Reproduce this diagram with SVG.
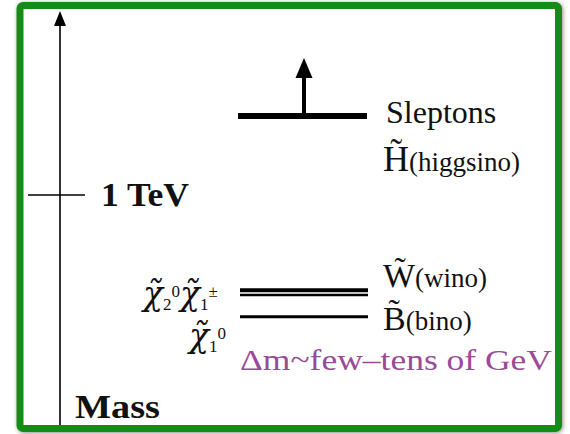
<svg xmlns="http://www.w3.org/2000/svg" width="570" height="434" viewBox="0 0 570 434">
  <defs>
    <style>
      .serif { font-family: "Liberation Serif", "Times New Roman", serif; fill: #111; }
      .big { font-size: 34px; }
      .paren { font-size: 27px; }
      .bold { font-weight: bold; font-size: 34px; }
      .chi { font-family: "DejaVu Serif", "Liberation Serif", serif; font-style: italic; font-size: 33px; fill: #111; }
      .s { font-family: "Liberation Serif", serif; font-style: normal; font-size: 17px; }
      .level { stroke: #000; fill: none; }
      .purple { font-family: "Liberation Serif", serif; font-size: 30px; fill: #9a4b98; }
    </style>
    <filter id="shadow" x="-5%" y="-5%" width="110%" height="110%">
      <feDropShadow dx="1" dy="1" stdDeviation="2" flood-color="#000" flood-opacity="0.45"/>
    </filter>
  </defs>

  <rect width="570" height="434" fill="#ffffff"/>

  <g id="frame">
    <rect x="20" y="5.5" width="538.5" height="423" rx="3" fill="#ffffff" stroke="#138c12" stroke-width="7" filter="url(#shadow)"/>
  </g>

  <g id="connectors">
    <line x1="60" y1="425" x2="60" y2="26" stroke="#000" stroke-width="1.6"/>
    <path d="M54,26 L60,11 L66,26 Z" fill="#000"/>
    <line x1="304" y1="116" x2="304" y2="76" stroke="#000" stroke-width="4"/>
    <path d="M295.5,78 L304,58 L312.5,78 Z" fill="#000"/>
  </g>

  <g id="tick-1tev">
    <line x1="28" y1="195" x2="85" y2="195" stroke="#000" stroke-width="1.6"/>
    <text class="serif bold" x="101" y="206" textLength="88" lengthAdjust="spacingAndGlyphs">1 TeV</text>
  </g>

  <g id="mass-label">
    <text class="serif bold" x="75" y="418" font-size="35" textLength="85" lengthAdjust="spacingAndGlyphs">Mass</text>
  </g>

  <g id="sleptons">
    <line class="level" x1="238" y1="116" x2="367" y2="116" stroke-width="6"/>
    <text class="serif" x="386" y="123" font-size="32">Sleptons</text>
  </g>

  <g id="higgsino">
    <text class="serif" x="383" y="171" font-size="36">H&#x303;<tspan class="paren">(higgsino)</tspan></text>
  </g>

  <g id="wino">
    <line class="level" x1="240" y1="290.3" x2="368" y2="290.3" stroke-width="4"/>
    <line class="level" x1="240" y1="295" x2="368" y2="295" stroke-width="2.4"/>
    <text class="serif big" x="383" y="287">W&#x303;<tspan class="paren">(wino)</tspan></text>
  </g>

  <g id="bino">
    <line class="level" x1="240" y1="316.7" x2="368" y2="316.7" stroke-width="3"/>
    <text class="serif big" x="383" y="330">B&#x303;<tspan class="paren">(bino)</tspan></text>
  </g>

  <g id="neutralino2-chargino1">
    <text class="chi" x="143" y="305">χ&#x303;<tspan class="s" dy="5">2</tspan><tspan class="s" dy="-13">0</tspan><tspan dy="8">χ&#x303;</tspan><tspan class="s" dy="5">1</tspan><tspan class="s" dy="-13">±</tspan></text>
  </g>

  <g id="neutralino1">
    <text class="chi" x="189" y="347">χ&#x303;<tspan class="s" dy="5">1</tspan><tspan class="s" dy="-13">0</tspan></text>
  </g>

  <g id="mass-splitting">
    <text class="purple" x="240" y="370" textLength="312" lengthAdjust="spacingAndGlyphs">Δm~few–tens of GeV</text>
  </g>
</svg>
